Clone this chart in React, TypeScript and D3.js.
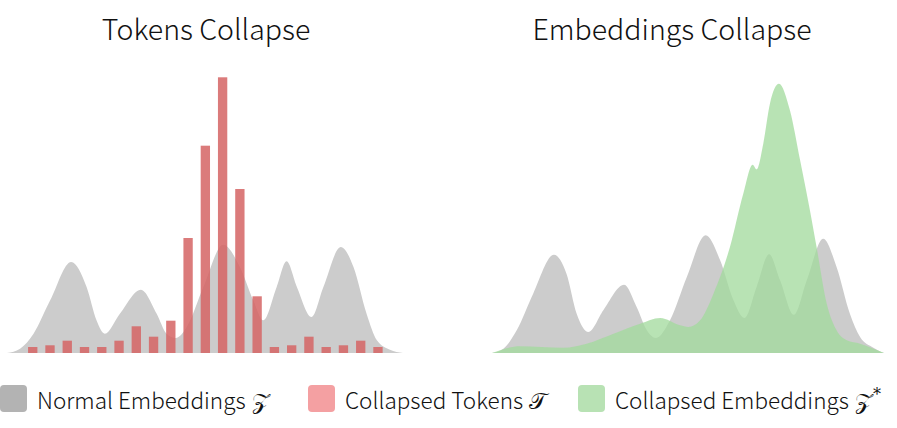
import * as d3 from 'd3';

const W = 897;
const H = 428;

const titles = ['Tokens Collapse', 'Embeddings Collapse'];

// density curves: [position 0-100 across panel, height]
const normalLeft: [number, number][] = [
  [0, 0], [3.3, 4.3], [6.7, 19.3], [10.9, 52.7], [16.2, 91], [20.1, 66], [22.6, 32.7], [24.7, 19.3],
  [28.5, 39.3], [33.8, 63.3], [37.8, 39.3], [40.3, 19.3], [42.6, 15], [45.4, 26], [49.6, 66],
  [54.6, 108.3], [58.8, 86], [62.2, 52.7], [64.7, 32.7], [68.1, 66], [70.6, 91.7], [73.2, 66],
  [76.9, 36], [79.9, 66], [84.3, 106], [87.5, 86], [90.8, 39.3], [93.4, 12.7], [96.7, 3.3], [100, 0],
];

const normalRight: [number, number][] = [
  [0, 0], [2.9, 4.3], [6.3, 22.7], [10.5, 59.3], [15.8, 98.3], [19, 79.3], [21.6, 39.3], [24.6, 21],
  [28.4, 42.7], [33.7, 68.3], [36.9, 46], [39.5, 22.7], [41.8, 15], [45.4, 32.7], [49.7, 76],
  [54.5, 117.7], [58.2, 92.7], [61.6, 52.7], [64.4, 35], [67.5, 66], [70.7, 98.7], [73.5, 72.7],
  [77, 38.3], [80.3, 72.7], [84.5, 114.3], [87.9, 86], [91.3, 39.3], [93.9, 16], [97.3, 5.3], [100, 0],
];

const collapsedEmbeddings: [number, number][] = [
  [0, 0], [7.1, 6.7], [18.2, 5.3], [24.1, 9.3], [31, 19.3], [37.8, 29.3], [42.9, 35], [48, 27.7],
  [50.1, 26], [53.1, 32.7], [56.5, 59.3], [60.7, 106], [64.1, 159.3], [66.5, 188.3], [67.5, 183.7],
  [69.2, 209.3], [70.9, 249.3], [73.2, 269.3], [76, 242.7], [78.6, 192.7], [81.1, 142.7],
  [82.8, 106], [85.4, 49.3], [87.9, 22.7], [90.5, 12.7], [93.9, 9.3], [97.3, 4.3], [100, 0],
];

// collapsed token histogram
const tokenCounts = [6, 7.7, 12.3, 6, 6, 12.3, 26.7, 16.3, 32.3, 115, 207.3, 275.7, 164, 56.7, 6, 7.7, 16.3, 6, 7.7, 12.3, 6];

const legendItems = [
  { label: 'Normal Embeddings', sym: '𝒵', sup: '', color: '#b3b3b3', x: 0 },
  { label: 'Collapsed Tokens', sym: '𝒯', sup: '', color: '#f4a0a2', x: 308 },
  { label: 'Collapsed Embeddings', sym: '𝒵', sup: '*', color: '#b8e2b4', x: 578 },
];

const FONT = "'Noto Sans CJK SC', 'Noto Sans', sans-serif";
const MATH = "'DejaVu Serif', 'Liberation Serif', serif";

export default function App() {
  const y = d3.scaleLinear().domain([0, 280]).range([353, 73]);
  const xLeft = d3.scaleLinear().domain([0, 100]).range([7, 403]);
  const xRight = d3.scaleLinear().domain([0, 100]).range([492, 884]);
  const xBar = d3.scaleBand<number>()
    .domain(d3.range(tokenCounts.length))
    .range([24.1, 386.6])
    .paddingInner(0.46)
    .paddingOuter(0.23);

  const areaGen = (xs: d3.ScaleLinear<number, number>) =>
    d3.area<[number, number]>()
      .x(d => xs(d[0]))
      .y0(y(0))
      .y1(d => y(d[1]))
      .curve(d3.curveMonotoneX);

  return (
    <svg width={W} height={H} style={{ position: 'absolute', left: 0, top: 0, background: '#fff' }}>
      <text x={206} y={40} textAnchor="middle" fontFamily={FONT} fontSize={28.5} fontWeight={300} fill="#111">{titles[0]}</text>
      <text x={672} y={40} textAnchor="middle" fontFamily={FONT} fontSize={28.5} fontWeight={300} fill="#111">{titles[1]}</text>

      {/* left: tokens collapse */}
      <path d={areaGen(xLeft)(normalLeft) ?? ''} fill="#cccccc" />
      {tokenCounts.map((v, i) => (
        <rect key={i} x={xBar(i)} y={y(v)} width={xBar.bandwidth()} height={y(0) - y(v)}
          fill="rgb(213,100,100)" fillOpacity={0.85} />
      ))}

      {/* right: embeddings collapse */}
      <path d={areaGen(xRight)(normalRight) ?? ''} fill="#cccccc" />
      <path d={areaGen(xRight)(collapsedEmbeddings) ?? ''} fill="rgb(162,218,157)" fillOpacity={0.76} />

      {/* legend */}
      {legendItems.map(item => (
        <g key={item.label} transform={`translate(${item.x},0)`}>
          <rect x={0} y={385} width={27} height={27} rx={4} fill={item.color} />
          <text x={37} y={408.5} fontFamily={FONT} fontSize={22.5} fontWeight={300} fill="#111">
            {item.label}
            <tspan dx={6} fontFamily={MATH} fontSize={23}>{item.sym}</tspan>
            {item.sup && <tspan fontFamily={MATH} fontSize={16} dy={-9}>{item.sup}</tspan>}
          </text>
        </g>
      ))}
    </svg>
  );
}
